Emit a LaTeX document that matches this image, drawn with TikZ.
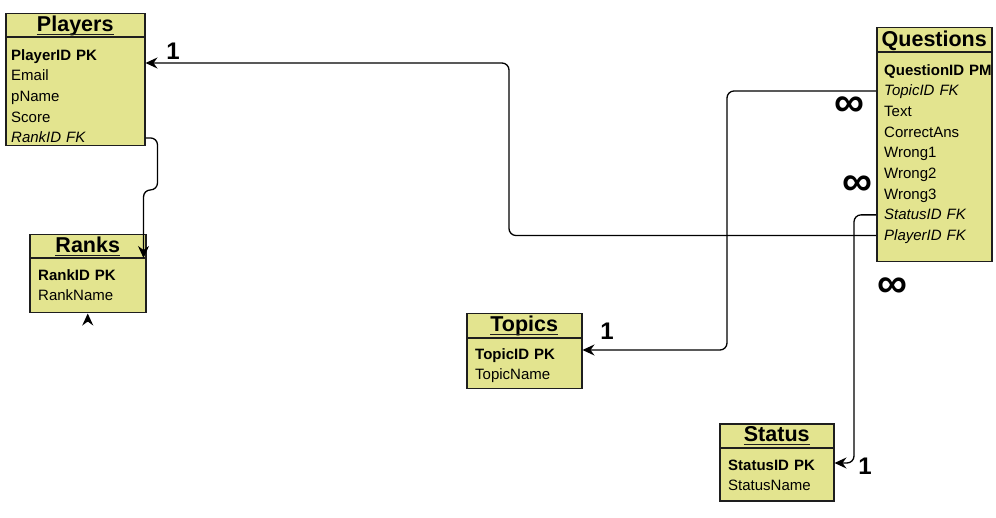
\documentclass[tikz,border=0pt]{standalone}
\usepackage{fontspec}
\setmainfont{Liberation Sans}
\usetikzlibrary{positioning}
\usetikzlibrary{arrows.meta}

\definecolor{entityfill}{HTML}{E3E48F}
\definecolor{entityline}{HTML}{1E1E1E}

\begin{document}
\begin{tikzpicture}[
		x=1pt,y=-1pt,
		entity/.style={rectangle,draw=entityline,fill=entityfill,line width=1.5pt,anchor=north west,inner sep=0pt},
		hline/.style={draw=entityline,line width=1.5pt},
		uline/.style={draw=entityline,line width=1.3pt},
		etitle/.style={font=\fontsize{21.5}{24}\selectfont\bfseries,inner sep=0pt,anchor=base},
		field/.style={font=\fontsize{15}{17}\selectfont,text width=120pt,align=left,inner xsep=0pt,inner ysep=5.125pt,text height=10pt,text depth=0pt},
		key/.style={field,font=\fontsize{15}{17}\selectfont\bfseries},
		fkey/.style={field,font=\fontsize{15}{17}\selectfont\itshape},
		link/.style={draw=black,line width=1.3pt,rounded corners=7pt,-{Stealth[length=12pt,width=11pt,inset=4pt]}},
		one/.style={font=\fontsize{24}{26}\selectfont\bfseries,inner sep=0pt},
		many/.style={font=\fontsize{42}{42}\selectfont\bfseries,inner sep=0pt}
		]
		\useasboundingbox (0,0) rectangle (996,518);

		% Players
		\node[entity,minimum width=139pt,minimum height=132pt] (players) at (5,13) {};
		\draw[hline] ([yshift=-24pt]players.north west) -- ([yshift=-24pt]players.north east);
		\node[etitle] (playersT) at ([yshift=-19pt]players.north) {Players};
		\draw[uline] ([yshift=-2.5pt]playersT.base west) -- ([yshift=-2.5pt]playersT.base east);
		\node[key,anchor=north west] (pID) at ([xshift=6pt,yshift=-32pt]players.north west) {PlayerID PK};
		\node[field,below=0pt of pID] (pEmail) {Email};
		\node[field,below=0pt of pEmail] (pName) {pName};
		\node[field,below=0pt of pName] (pScore) {Score};
		\node[fkey,below=0pt of pScore] (pRank) {RankID FK};

		% Ranks
		\node[entity,minimum width=116pt,minimum height=78pt] (ranks) at (29,234) {};
		\draw[hline] ([yshift=-24pt]ranks.north west) -- ([yshift=-24pt]ranks.north east);
		\node[etitle] (ranksT) at ([yshift=-19pt]ranks.north) {Ranks};
		\draw[uline] ([yshift=-2.5pt]ranksT.base west) -- ([yshift=-2.5pt]ranksT.base east);
		\node[key,anchor=north west] (rID) at ([xshift=9pt,yshift=-31pt]ranks.north west) {RankID PK};
		\node[field,below=0pt of rID] (rName) {RankName};

		% Questions
		\node[entity,minimum width=115pt,minimum height=234pt] (questions) at (876,27) {};
		\draw[hline] ([yshift=-25pt]questions.north west) -- ([yshift=-25pt]questions.north east);
		\node[etitle] (questionsT) at ([yshift=-20pt]questions.north) {Questions};
		\node[key,anchor=north west] (qID) at ([xshift=8pt,yshift=-33pt]questions.north west) {QuestionID PM};
		\node[fkey,below=0pt of qID] (qTopic) {TopicID FK};
		\node[field,below=0pt of qTopic] (qText) {Text};
		\node[field,below=0pt of qText] (qCorrect) {CorrectAns};
		\node[field,below=0pt of qCorrect] (qWrong1) {Wrong1};
		\node[field,below=0pt of qWrong1] (qWrong2) {Wrong2};
		\node[field,below=0pt of qWrong2] (qWrong3) {Wrong3};
		\node[fkey,below=0pt of qWrong3] (qStatus) {StatusID FK};
		\node[fkey,below=0pt of qStatus] (qPlayer) {PlayerID FK};

		% Topics
		\node[entity,minimum width=115pt,minimum height=75pt] (topics) at (466,313) {};
		\draw[hline] ([yshift=-25pt]topics.north west) -- ([yshift=-25pt]topics.north east);
		\node[etitle] (topicsT) at ([yshift=-19pt]topics.north) {Topics};
		\draw[uline] ([yshift=-2.5pt]topicsT.base west) -- ([yshift=-2.5pt]topicsT.base east);
		\node[key,anchor=north west] (tID) at ([xshift=9pt,yshift=-31pt]topics.north west) {TopicID PK};
		\node[field,below=0pt of tID] (tName) {TopicName};

		% Status
		\node[entity,minimum width=114pt,minimum height=77pt] (status) at (719,423) {};
		\draw[hline] ([yshift=-25pt]status.north west) -- ([yshift=-25pt]status.north east);
		\node[etitle] (statusT) at ([yshift=-19pt]status.north) {Status};
		\draw[uline] ([yshift=-2.5pt]statusT.base west) -- ([yshift=-2.5pt]statusT.base east);
		\node[key,anchor=north west] (sID) at ([xshift=9pt,yshift=-32pt]status.north west) {StatusID PK};
		\node[field,below=0pt of sID] (sName) {StatusName};

		% relations
		\draw[link] (players.east |- pRank) -- ++(12,0) -- ++(0,52) -- ++(-14,0) -- ([xshift=-3pt,yshift=-24pt]ranks.north east);
		\draw[link] ([yshift=-9pt]ranks.south) -- (ranks.south);
		\draw[link] (questions.west |- qPlayer) -| (509,63) -- ([yshift=-50pt]players.north east);
		\draw[link] (questions.west |- qTopic) -| (727,350) -- ([yshift=-37pt]topics.north east);
		\draw[link] (questions.west |- qStatus) -| (854,463) -- ([yshift=-40pt]status.north east);

		% cardinalities
		\node[one] (oneP) at (173,51) {1};
		\node[one] (oneT) at (607,331) {1};
		\node[one] (oneS) at (865,466) {1};
		\node[many] (manyT) at (849,107) {∞};
		\node[many] (manyS) at (857,186) {∞};
		\node[many] (manyP) at (892,288) {∞};
	\end{tikzpicture}
\end{document}
